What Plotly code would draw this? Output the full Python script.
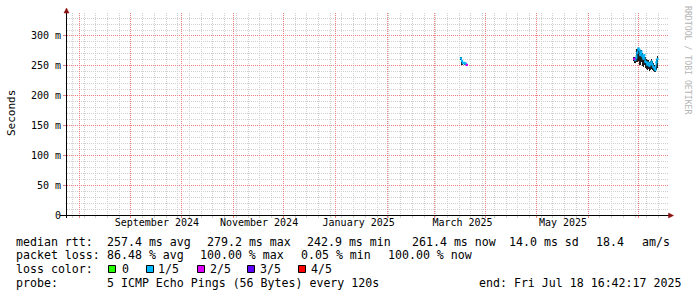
import plotly.graph_objects as go

# ---------------- data ----------------
x_start = "2024-07-24 20:00:00"
x_end = "2025-07-18 16:42:17"

# month grid / label positions
month_grid_start = "2024-08-01"
week_grid_start = "2024-07-28"
x_label_dates = ["2024-09-16 12:00", "2024-11-16 12:00", "2025-01-15 00:00",
                 "2025-03-18 00:00", "2025-05-17 00:00"]
x_label_text = ["September 2024", "November 2024", "January 2025", "March 2025", "May 2025"]

y_tick_vals = [0, 0.05, 0.10, 0.15, 0.20, 0.25, 0.30]
y_tick_text = ["0", "50 m", "100 m", "150 m", "200 m", "250 m", "300 m"]
y_minor_step = 0.01
y_max = 0.3385

# segment A (March 2025)
dates_a = ["2025-03-17 02:00", "2025-03-17 16:00", "2025-03-18 06:00", "2025-03-18 20:00",
           "2025-03-19 10:00", "2025-03-20 00:00", "2025-03-20 14:00"]
median_a = [0.2625, 0.2580, 0.2545, 0.2550, 0.2540, 0.2535, 0.2515]
smoke_lo_a = [0.2600, 0.2515, 0.2525, 0.2530, 0.2520, 0.2515, 0.2500]
smoke_hi_a = [0.2640, 0.2600, 0.2560, 0.2565, 0.2555, 0.2550, 0.2530]
loss_a = [1, 1, 1, 1, 1, 1, 2]

# segment B (end of June / July 2025)
dates_b = ["2025-06-28 14:00", "2025-06-29 04:00", "2025-06-29 19:00", "2025-06-30 09:00",
           "2025-07-01 00:00", "2025-07-01 14:00", "2025-07-02 04:00", "2025-07-02 19:00",
           "2025-07-03 09:00", "2025-07-04 00:00", "2025-07-04 14:00", "2025-07-05 04:00",
           "2025-07-05 19:00", "2025-07-06 09:00", "2025-07-07 00:00", "2025-07-07 14:00",
           "2025-07-08 04:00", "2025-07-08 19:00", "2025-07-09 09:00", "2025-07-10 00:00",
           "2025-07-10 14:00", "2025-07-11 04:00", "2025-07-11 19:00", "2025-07-12 09:00"]
median_b = [0.2615, 0.2600, 0.2640, 0.2720, 0.2790, 0.2770, 0.2680, 0.2740,
            0.2660, 0.2620, 0.2680, 0.2570, 0.2560, 0.2520, 0.2550, 0.2500,
            0.2530, 0.2570, 0.2520, 0.2480, 0.2460, 0.2429, 0.2560, 0.2614]
smoke_lo_b = [0.2580, 0.2540, 0.2560, 0.2560, 0.2580, 0.2540, 0.2520, 0.2560,
              0.2500, 0.2480, 0.2520, 0.2460, 0.2450, 0.2430, 0.2440, 0.2420,
              0.2430, 0.2450, 0.2430, 0.2410, 0.2400, 0.2400, 0.2430, 0.2470]
smoke_hi_b = [0.2640, 0.2650, 0.2700, 0.2790, 0.2800, 0.2790, 0.2760, 0.2770,
              0.2720, 0.2680, 0.2700, 0.2640, 0.2620, 0.2600, 0.2600, 0.2570,
              0.2580, 0.2610, 0.2580, 0.2540, 0.2520, 0.2480, 0.2620, 0.2660]
loss_b = [2, 1, 1, 1, 1, 1, 1, 1, 1, 1, 1, 1, 1, 1, 1, 1, 1, 1, 1, 1, 1, 1, 1, 1]

loss_labels = ["0", "1/5", "2/5", "3/5", "4/5"]
loss_colors = ["#26ff00", "#00b8ff", "#dd00ff", "#5e00ff", "#ff0000"]

rtt_items = ["median rtt:", "257.4 ms avg", "279.2 ms max", "242.9 ms min",
             "261.4 ms now", "14.0 ms sd", "18.4", "am/s"]
loss_items = ["packet loss:", "86.48 % avg", "100.00 % max", "0.05 % min", "100.00 % now"]
probe_items = ["probe:", "5 ICMP Echo Pings (56 Bytes) every 120s"]
end_text = "end: Fri Jul 18 16:42:17 2025"
loss_color_title = "loss color:"
y_title = "Seconds"
watermark = "RRDTOOL / TOBI OETIKER"

# ---------------- layout geometry (pixels) ----------------
W, H = 697, 297
L, R, T, B = 67, 668, 13, 215
MONO = "DejaVu Sans Mono"


def px(x):
    return (x - L) / (R - L)


def py(y):
    return (B - y) / (B - T)


# minor y grid positions that are not major positions
n_minor = int(round(y_max / y_minor_step))
y_minor_vals = [round(i * y_minor_step, 4) for i in range(1, n_minor + 1)
                if round(i * y_minor_step, 4) not in [round(v, 4) for v in y_tick_vals]]

# combine segments with a gap
dates = dates_a + [None] + dates_b
median = median_a + [None] + median_b
loss = loss_a + [None] + loss_b

bar_x = dates_a + dates_b
bar_base = smoke_lo_a + smoke_lo_b
bar_h = [h - l for h, l in zip(smoke_hi_a + smoke_hi_b, smoke_lo_a + smoke_lo_b)]

fig = go.Figure()
fig.add_trace(go.Bar(x=bar_x, y=bar_h, base=bar_base, width=0.4 * 86400000,
                     marker=dict(color="#1e1e1e", line=dict(width=0)),
                     hoverinfo="skip", showlegend=False))
for k in sorted(set(l for l in loss if l is not None)):
    ys = [m if (l == k) else None for m, l in zip(median, loss)]
    fig.add_trace(go.Scatter(x=dates, y=ys, mode="lines", connectgaps=False,
                             line=dict(color=loss_colors[k], width=1.1),
                             hoverinfo="skip", showlegend=False))
    fig.add_trace(go.Scatter(x=dates, y=ys, mode="markers",
                             marker=dict(color=loss_colors[k], size=2.2, symbol="square",
                                         line=dict(width=0)),
                             hoverinfo="skip", showlegend=False))
# anchor trace for label axis
fig.add_trace(go.Scatter(x=x_label_dates, y=[None] * len(x_label_dates), xaxis="x2",
                         mode="none", hoverinfo="skip", showlegend=False))

GRID_MIN = "#d0d0d0"
GRID_MAJ = "#f08080"
DASH = "1px,1px"

fig.update_layout(
    template="none",
    width=W, height=H,
    margin=dict(l=L, r=W - R, t=T, b=H - B, pad=0),
    paper_bgcolor="white", plot_bgcolor="white",
    font=dict(family=MONO, color="#000000"),
    showlegend=False, bargap=0,
    xaxis=dict(type="date", range=[x_start, x_end], showgrid=True,
               gridcolor=GRID_MAJ, griddash=DASH, gridwidth=1,
               tick0=month_grid_start, dtick="M1",
               ticks="outside", ticklen=2, tickcolor=GRID_MAJ,
               showticklabels=False, showline=False, zeroline=False,
               minor=dict(tick0=week_grid_start, dtick=7 * 86400000, showgrid=True,
                          gridcolor=GRID_MIN, griddash=DASH, gridwidth=1,
                          ticks="outside", ticklen=2, tickcolor=GRID_MIN)),
    xaxis2=dict(type="date", range=[x_start, x_end], overlaying="x", side="bottom",
                anchor="y", showgrid=False, zeroline=False, showline=False,
                tickmode="array", tickvals=x_label_dates, ticktext=x_label_text,
                ticks="", tickfont=dict(family=MONO, size=10, color="#000000")),
    yaxis=dict(range=[0, y_max], showgrid=True, gridcolor=GRID_MAJ, griddash=DASH,
               gridwidth=1, tickmode="array", tickvals=y_tick_vals, ticktext=y_tick_text,
               ticks="outside", ticklen=3, tickcolor=GRID_MAJ, zeroline=False,
               showline=False, tickfont=dict(family=MONO, size=10, color="#000000"),
               minor=dict(tickmode="array", tickvals=y_minor_vals, showgrid=True,
                          gridcolor=GRID_MIN, griddash=DASH, gridwidth=1, ticks="")),
)

shapes = []
# axes lines
shapes.append(dict(type="line", xref="paper", yref="paper", x0=px(60), x1=px(669),
                   y0=py(215.5), y1=py(215.5), line=dict(color="#000000", width=1), layer="above"))
shapes.append(dict(type="line", xref="paper", yref="paper", x0=px(66.5), x1=px(66.5),
                   y0=py(218), y1=py(12), line=dict(color="#000000", width=1), layer="above"))
# arrows
shapes.append(dict(type="path", xref="paper", yref="paper",
                   path=f"M {px(64)},{py(13)} L {px(69)},{py(13)} L {px(66.5)},{py(8)} Z",
                   fillcolor="#8b1010", line=dict(color="#8b1010", width=0.5), layer="above"))
shapes.append(dict(type="path", xref="paper", yref="paper",
                   path=f"M {px(668.5)},{py(213)} L {px(668.5)},{py(218)} L {px(673.5)},{py(215.5)} Z",
                   fillcolor="#8b1010", line=dict(color="#8b1010", width=0.5), layer="above"))
# loss color boxes
box_x = [108, 146, 197, 247, 298]
for bx, col in zip(box_x, loss_colors):
    shapes.append(dict(type="rect", xref="paper", yref="paper",
                       x0=px(bx + 0.5), x1=px(bx + 7.5), y0=py(265.5), y1=py(272.5),
                       fillcolor=col, line=dict(color="#000000", width=1)))
fig.update_layout(shapes=shapes)

ann = []


def text(x, y, s, size=11.6, xanchor="left", color="#000000", angle=0, yanchor="middle"):
    ann.append(dict(xref="paper", yref="paper", x=px(x), y=py(y), text=s.replace(" ", "\u00a0"),
                    showarrow=False, xanchor=xanchor, yanchor=yanchor, textangle=angle,
                    borderpad=0, borderwidth=0,
                    font=dict(family=MONO, size=size, color=color)))


rtt_x = [16, 107, 207, 307, 412, 509, 596, 642]
for x, s in zip(rtt_x, rtt_items):
    text(x - 0.5, 241.7, s)
loss_x = [16, 107, 200, 301, 388]
for x, s in zip(loss_x, loss_items):
    text(x - 0.5, 255, s)
text(15.5, 269.3, loss_color_title)
label_x = [122, 158, 210, 260, 311]
for x, s in zip(label_x, loss_labels):
    text(x - 0.5, 269.3, s)
probe_x = [16, 107]
for x, s in zip(probe_x, probe_items):
    text(x - 0.5, 283.3, s)
text(680.5, 283.3, end_text, xanchor="right")
text(11, 113, y_title, size=11, xanchor="center", angle=-90)
text(688, 60, watermark, size=8.2, xanchor="center", angle=90, color="#b4b4b4")
fig.update_layout(annotations=ann)

fig.write_html("out.html")
